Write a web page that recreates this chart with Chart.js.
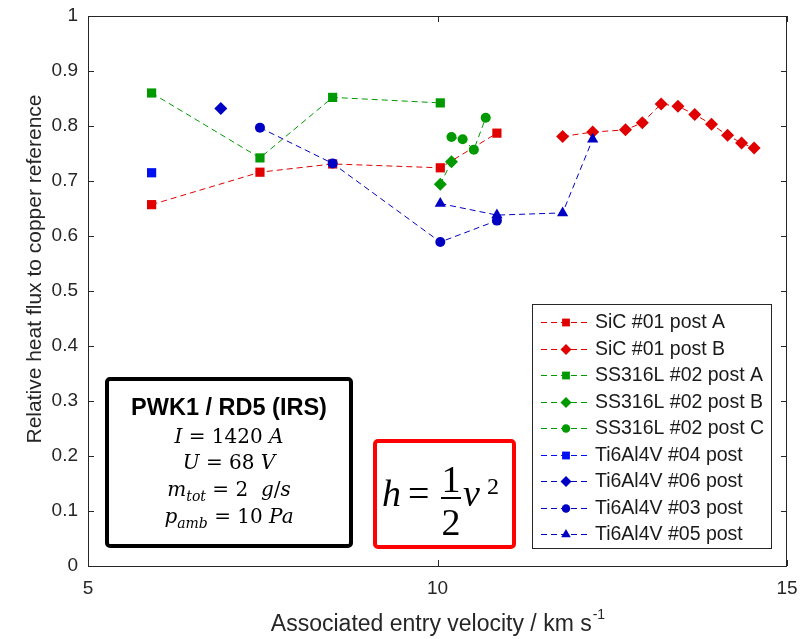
<!DOCTYPE html>
<html>
<head>
<meta charset="utf-8">
<script src="https://cdn.jsdelivr.net/npm/chart.js"></script>
<style>
  html, body { margin: 0; padding: 0; background: #fff; }
  #wrap { width: 807px; height: 639px; }
</style>
</head>
<body>
<div id="wrap"><canvas id="chart" width="807" height="639"></canvas></div>
<script>
// entry velocity (km/s) and relative heat flux per sample / probe position
const sicA_x = [5.91, 7.46, 8.50, 10.04, 10.85];
const sicA_y = [0.657, 0.716, 0.731, 0.724, 0.787];
const sicB_x = [11.79, 12.22, 12.69, 12.93, 13.20, 13.44, 13.68, 13.92, 14.15, 14.35, 14.53];
const sicB_y = [0.781, 0.789, 0.793, 0.806, 0.840, 0.836, 0.821, 0.803, 0.783, 0.769, 0.760];
const ssA_x = [5.91, 7.46, 8.50, 10.04];
const ssA_y = [0.860, 0.742, 0.852, 0.842];
const ssB_x = [10.04, 10.20];
const ssB_y = [0.694, 0.735];
const ssC_x = [10.20, 10.36, 10.52, 10.69];
const ssC_y = [0.780, 0.776, 0.757, 0.815];
const ti04_x = [5.91];
const ti04_y = [0.715];
const ti06_x = [6.90];
const ti06_y = [0.832];
const ti03_x = [7.46, 8.50, 10.04, 10.85];
const ti03_y = [0.797, 0.732, 0.589, 0.628];
const ti05_x = [10.04, 10.85, 11.79, 12.22];
const ti05_y = [0.659, 0.638, 0.642, 0.776];

const xTicks = [5, 10, 15];
const yTicks = [0, 0.1, 0.2, 0.3, 0.4, 0.5, 0.6, 0.7, 0.8, 0.9, 1];

const RED = '#e00000', GREEN = '#009a00', BLUE = '#0000c4', BLUE2 = '#0010f0';
const AXIS = '#262626';
const SANS = '"Liberation Sans", Arial, sans-serif';

function pts(xs, ys) { return xs.map((x, i) => ({ x, y: ys[i] })); }

const series = [
  { label: 'SiC #01 post A', xs: sicA_x, ys: sicA_y, color: RED, style: 'rect', r: 6.5 },
  { label: 'SiC #01 post B', xs: sicB_x, ys: sicB_y, color: RED, style: 'rectRot', r: 6.5 },
  { label: 'SS316L #02 post A', xs: ssA_x, ys: ssA_y, color: GREEN, style: 'rect', r: 6.5 },
  { label: 'SS316L #02 post B', xs: ssB_x, ys: ssB_y, color: GREEN, style: 'rectRot', r: 6.5 },
  { label: 'SS316L #02 post C', xs: ssC_x, ys: ssC_y, color: GREEN, style: 'circle', r: 5 },
  { label: 'Ti6Al4V #04 post', xs: ti04_x, ys: ti04_y, color: BLUE2, style: 'rect', r: 6.5 },
  { label: 'Ti6Al4V #06 post', xs: ti06_x, ys: ti06_y, color: BLUE, style: 'rectRot', r: 6.5 },
  { label: 'Ti6Al4V #03 post', xs: ti03_x, ys: ti03_y, color: BLUE, style: 'circle', r: 5 },
  { label: 'Ti6Al4V #05 post', xs: ti05_x, ys: ti05_y, color: BLUE, style: 'triangle', r: 6.5 }
];

const datasets = series.map((s, i) => ({
  label: s.label,
  data: pts(s.xs, s.ys),
  borderColor: s.color,
  backgroundColor: s.color,
  borderWidth: 1,
  borderDash: [6, 4],
  pointStyle: s.style,
  pointRadius: s.r,
  pointBorderWidth: 0,
  pointBackgroundColor: s.color,
  tension: 0,
  fill: false,
  order: series.length - i
}));

// box, inward ticks, axis titles, legend and annotation boxes
const decor = {
  id: 'decor',
  afterDraw(chart) {
    const ctx = chart.ctx;
    const a = chart.chartArea;
    const xs = chart.scales.x, ys = chart.scales.y;
    ctx.save();
    ctx.strokeStyle = AXIS;
    ctx.lineWidth = 1;
    ctx.setLineDash([]);
    ctx.strokeRect(a.left + 0.5, a.top + 0.5, a.right - a.left - 1, a.bottom - a.top);
    ctx.beginPath();
    xTicks.forEach(v => {
      const px = Math.round(xs.getPixelForValue(v)) + 0.5;
      ctx.moveTo(px, a.bottom); ctx.lineTo(px, a.bottom - 6);
      ctx.moveTo(px, a.top); ctx.lineTo(px, a.top + 6);
    });
    yTicks.forEach(v => {
      const py = Math.round(ys.getPixelForValue(v)) + 0.5;
      ctx.moveTo(a.left, py); ctx.lineTo(a.left + 6, py);
      ctx.moveTo(a.right, py); ctx.lineTo(a.right - 6, py);
    });
    ctx.stroke();

    // axis titles
    ctx.fillStyle = AXIS;
    ctx.textBaseline = 'middle';
    ctx.textAlign = 'left';
    const xt = 'Associated entry velocity / km s';
    ctx.font = '23px ' + SANS;
    const w1 = ctx.measureText(xt).width;
    ctx.font = '14px ' + SANS;
    const w2 = ctx.measureText('-1').width;
    const x0 = (a.left + a.right) / 2 - (w1 + w2) / 2;
    ctx.font = '23px ' + SANS;
    ctx.fillText(xt, x0, 625);
    ctx.font = '14px ' + SANS;
    ctx.fillText('-1', x0 + w1 + 1, 615);

    ctx.save();
    ctx.translate(35, 269);
    ctx.rotate(-Math.PI / 2);
    ctx.textAlign = 'center';
    ctx.font = '21px ' + SANS;
    ctx.fillText('Relative heat flux to copper reference', 0, 0);
    ctx.restore();

    // legend
    const lg = { l: 532, t: 304, r: 771, b: 548 };
    ctx.fillStyle = '#fff';
    ctx.fillRect(lg.l, lg.t, lg.r - lg.l, lg.b - lg.t);
    ctx.strokeStyle = AXIS;
    ctx.lineWidth = 1;
    ctx.strokeRect(lg.l + 0.5, lg.t + 0.5, lg.r - lg.l, lg.b - lg.t);
    series.forEach((s, i) => {
      const y = Math.round(322 + i * 26.5) + 0.5;
      ctx.strokeStyle = s.color;
      ctx.lineWidth = 1;
      ctx.setLineDash([6, 4]);
      ctx.beginPath();
      ctx.moveTo(541, y); ctx.lineTo(590, y);
      ctx.stroke();
      ctx.setLineDash([]);
      ctx.fillStyle = s.color;
      Chart.helpers.drawPoint(ctx, { pointStyle: s.style, radius: s.r * 0.85, rotation: 0, borderWidth: 0 }, 566, y);
      ctx.fillStyle = '#1a1a1a';
      ctx.font = '19.5px ' + SANS;
      ctx.textAlign = 'left';
      ctx.textBaseline = 'middle';
      ctx.fillText(s.label, 595, y);
    });

    // operating conditions box
    const bb = { l: 107, t: 379, r: 351, b: 546 };
    ctx.fillStyle = '#fff';
    ctx.strokeStyle = '#000';
    ctx.lineWidth = 4;
    ctx.beginPath();
    ctx.roundRect(bb.l, bb.t, bb.r - bb.l, bb.b - bb.t, 3);
    ctx.fill();
    ctx.stroke();
    const cx = (bb.l + bb.r) / 2;
    ctx.fillStyle = '#000';
    ctx.textAlign = 'center';
    ctx.textBaseline = 'middle';
    ctx.font = 'bold 23.5px ' + SANS;
    ctx.fillText('PWK1 / RD5 (IRS)', cx, 409);

    const SERIF = '"DejaVu Serif", "Liberation Serif", serif';
    const IT = 'italic 20px ' + SERIF;
    const UP = '20px ' + SERIF;
    const SUB = 'italic 14px ' + SERIF;
    function mathLine(parts, y) {
      let total = 0;
      parts.forEach(p => { ctx.font = p.f; p.w = ctx.measureText(p.t).width; total += p.w; });
      let x = cx - total / 2;
      ctx.textAlign = 'left';
      ctx.textBaseline = 'alphabetic';
      parts.forEach(p => { ctx.font = p.f; ctx.fillText(p.t, x, y + (p.dy || 0)); x += p.w; });
    }
    mathLine([{ t: 'I', f: IT }, { t: ' = 1420 ', f: UP }, { t: 'A', f: IT }], 443);
    mathLine([{ t: 'U', f: IT }, { t: ' = 68 ', f: UP }, { t: 'V', f: IT }], 469);
    mathLine([{ t: 'm', f: IT }, { t: 'tot', f: SUB, dy: 5 }, { t: ' = 2  ', f: UP }, { t: 'g', f: IT }, { t: '/', f: UP }, { t: 's', f: IT }], 496);
    mathLine([{ t: 'p', f: IT }, { t: 'amb', f: SUB, dy: 5 }, { t: ' = 10 ', f: UP }, { t: 'Pa', f: IT }], 523);

    // stagnation relation box
    const rb = { l: 375, t: 441, r: 514, b: 547 };
    ctx.fillStyle = '#fff';
    ctx.strokeStyle = '#ff0000';
    ctx.lineWidth = 4;
    ctx.beginPath();
    ctx.roundRect(rb.l, rb.t, rb.r - rb.l, rb.b - rb.t, 3);
    ctx.fill();
    ctx.stroke();
    ctx.fillStyle = '#000';
    ctx.textBaseline = 'alphabetic';
    ctx.textAlign = 'left';
    ctx.font = 'italic 38px "Liberation Serif", "DejaVu Serif", serif';
    ctx.fillText('h', 382, 506);
    ctx.font = '38px "Liberation Serif", "DejaVu Serif", serif';
    ctx.fillText('=', 408, 506);
    ctx.textAlign = 'center';
    ctx.fillText('1', 451, 492);
    ctx.fillText('2', 451, 535);
    ctx.fillRect(441, 497, 20, 2);
    ctx.textAlign = 'left';
    ctx.font = 'italic 38px "Liberation Serif", "DejaVu Serif", serif';
    ctx.fillText('v', 463, 506);
    ctx.font = '24px "Liberation Serif", "DejaVu Serif", serif';
    ctx.fillText('2', 487, 494);
    ctx.restore();
  }
};

new Chart(document.getElementById('chart'), {
  type: 'line',
  data: { datasets },
  options: {
    responsive: false,
    animation: false,
    devicePixelRatio: 1,
    layout: { padding: { left: 0, right: 20, top: 16, bottom: 0 } },
    plugins: { legend: { display: false }, tooltip: { enabled: false } },
    scales: {
      x: {
        type: 'linear',
        min: 5, max: 15,
        afterFit(s) { s.height = 73; s.paddingLeft = 0; s.paddingRight = 0; },
        afterBuildTicks(s) { s.ticks = xTicks.map(v => ({ value: v })); },
        grid: { display: false, drawTicks: false },
        border: { display: false },
        ticks: { color: AXIS, padding: 11, font: { family: SANS, size: 19 } }
      },
      y: {
        type: 'linear',
        min: 0, max: 1,
        afterFit(s) { s.width = 88; s.paddingTop = 0; s.paddingBottom = 0; },
        afterBuildTicks(s) { s.ticks = yTicks.map(v => ({ value: v })); },
        grid: { display: false, drawTicks: false },
        border: { display: false },
        ticks: {
          color: AXIS, padding: 10,
          font: { family: SANS, size: 19 },
          callback: v => String(+v.toFixed(1))
        }
      }
    }
  },
  plugins: [decor]
});
</script>
</body>
</html>
